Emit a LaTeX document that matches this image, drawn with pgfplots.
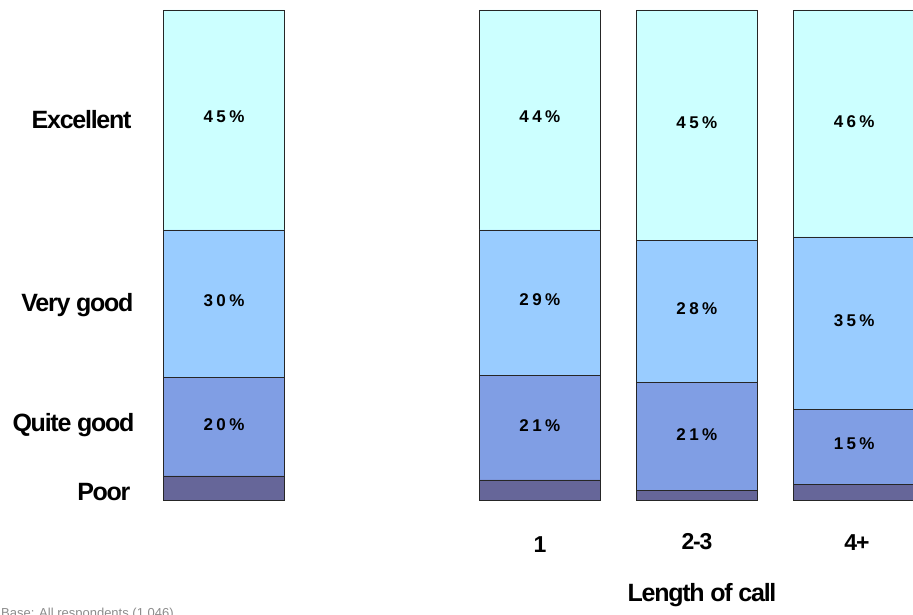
\documentclass[border=0pt]{standalone}
\usepackage{pgfplots}
\pgfplotsset{compat=1.18}
\usepackage{fontspec}
\setmainfont{Liberation Sans}
\newfontfamily\catfont[LetterSpace=-5]{Liberation Sans}
\newfontfamily\barfont[LetterSpace=20]{Liberation Sans}
\definecolor{cExc}{RGB}{204,255,255}
\definecolor{cVG}{RGB}{153,204,255}
\definecolor{cQG}{RGB}{128,158,228}
\definecolor{cPoor}{RGB}{102,102,153}
\newcommand{\px}[2]{(rel axis cs:{#1/913},{1-#2/615})}
\begin{document}
\begin{tikzpicture}
\begin{axis}[
  scale only axis, width=913pt, height=615pt,
  xmin=-1.4268, xmax=4.3885, ymin=-23.47, ymax=102.04,
  hide axis,
  ybar, bar width=121pt, bar shift=0pt,
  every axis plot/.append style={draw=black!85, line width=0.7pt},
]
% cumulative tops (Excellent = 100), drawn back to front
\addplot[fill=cExc] coordinates {(0,100) (2.012,100) (3.012,100) (4.014,100)};
\addplot[fill=cVG] coordinates {(0,55.1) (2.012,55.1) (3.012,53.0) (4.014,53.7)};
\addplot[fill=cQG] coordinates {(0,25.1) (2.012,25.5) (3.012,24.0) (4.014,18.4)};
\addplot[fill=cPoor] coordinates {(0,4.9) (2.012,4.1) (3.012,2.0) (4.014,3.1)};
% segment labels
\addplot[sharp plot, draw=none, nodes near coords, point meta=explicit symbolic,
  every node near coord/.style={anchor=center, font=\barfont\bfseries\fontsize{17}{19}\selectfont, text=black}]
  coordinates {
   (0,78.2) [45\%] (0,40.6) [30\%] (0,15.3) [20\%]
   (2.012,78.2) [44\%] (2.012,40.8) [29\%] (2.012,15.1) [21\%]
   (3.012,77.1) [45\%] (3.012,39.0) [28\%] (3.012,13.3) [21\%]
   (4.014,77.3) [46\%] (4.014,36.5) [35\%] (4.014,11.4) [15\%]
  };
\node[anchor=east, font=\catfont\bfseries\fontsize{25}{27}\selectfont] at \px{135}{120} {Excellent};
\node[anchor=east, font=\catfont\bfseries\fontsize{25}{27}\selectfont] at \px{137}{305} {Very good};
\node[anchor=east, font=\catfont\bfseries\fontsize{25}{27}\selectfont] at \px{138}{425} {Quite good};
\node[anchor=east, font=\catfont\bfseries\fontsize{25}{27}\selectfont] at \px{134}{492} {Poor};
\node[font=\catfont\bfseries\fontsize{23}{25}\selectfont] at \px{540}{545} {1};
\node[font=\catfont\bfseries\fontsize{23}{25}\selectfont] at \px{697}{542} {2-3};
\node[font=\catfont\bfseries\fontsize{23}{25}\selectfont] at \px{857}{543} {4+};
\node[font=\catfont\bfseries\fontsize{25}{27}\selectfont] at \px{702}{595} {Length of call};
\node[overlay, anchor=north west, inner sep=0pt, text=black!45, font=\fontsize{13}{15}\selectfont] at \px{1}{608} {Base: All respondents (1,046)};
\end{axis}
\pgfresetboundingbox
\path[use as bounding box] (current axis.south west) rectangle (current axis.north east);
\end{tikzpicture}
\end{document}
